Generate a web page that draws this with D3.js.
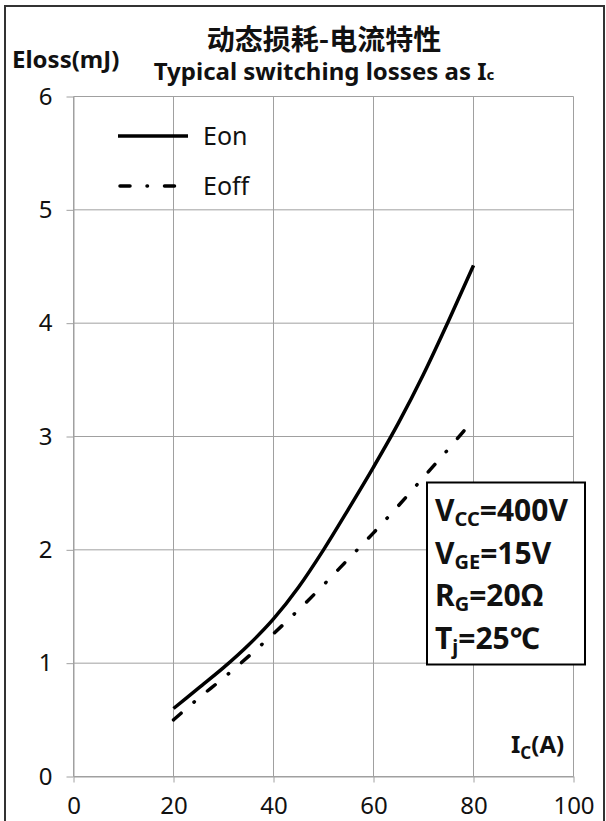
<!DOCTYPE html>
<html>
<head>
<meta charset="utf-8">
<script src="https://cdn.jsdelivr.net/npm/d3@7"></script>
<style>
  body { margin: 0; background: #fff; }
  svg text { font-family: "Noto Sans", "Noto Sans CJK SC", sans-serif; fill: #111; }
</style>
</head>
<body>
<div id="chart"></div>
<script>
// values
const xTicks = [0, 20, 40, 60, 80, 100];
const yTicks = [0, 1, 2, 3, 4, 5, 6];
const currentA = [20, 25, 30, 35, 40, 45, 50, 55, 60, 65, 70, 75, 80];
const eonMJ = [0.60, 0.78, 0.96, 1.16, 1.39, 1.67, 2.00, 2.36, 2.73, 3.12, 3.55, 4.02, 4.51];
const eoffMJ = [0.50, 0.69, 0.87, 1.06, 1.26, 1.47, 1.69, 1.92, 2.15, 2.39, 2.64, 2.89, 3.15];
const seriesNames = ["Eon", "Eoff"];
const conditions = [["V", "CC", "=400V"], ["V", "GE", "=15V"], ["R", "G", "=20Ω"], ["T", "j", "=25℃"]];

const W = 606, H = 821;
const margin = { top: 96.5, right: 32.5, bottom: 44.5, left: 73.5 };
const width = W - margin.left - margin.right;
const height = H - margin.top - margin.bottom;

const svg = d3.select("#chart").append("svg")
  .attr("width", W)
  .attr("height", H);

// outer frame
svg.append("rect")
  .attr("x", 5).attr("y", 6)
  .attr("width", 599).attr("height", 840)
  .attr("fill", "none")
  .attr("stroke", "#333")
  .attr("stroke-width", 2);

const xScale = d3.scaleLinear().domain([0, 100]).range([0, width]);
const yScale = d3.scaleLinear().domain([0, 6]).range([height, 0]);

const g = svg.append("g")
  .attr("transform", "translate(" + margin.left + "," + margin.top + ")");

// grid
g.append("g").selectAll("line").data(xTicks).enter().append("line")
  .attr("x1", d => xScale(d)).attr("x2", d => xScale(d))
  .attr("y1", 0).attr("y2", height)
  .attr("stroke", "#a0a0a0");
g.append("g").selectAll("line").data(yTicks).enter().append("line")
  .attr("x1", 0).attr("x2", width)
  .attr("y1", d => yScale(d)).attr("y2", d => yScale(d))
  .attr("stroke", "#a0a0a0");

// axis-x
const xAxis = g.append("g")
  .attr("transform", "translate(0," + height + ")")
  .call(d3.axisBottom(xScale).tickValues(xTicks).tickFormat(d3.format("d"))
    .tickSize(6).tickSizeOuter(0).tickPadding(14.5));
// axis-y
const yAxis = g.append("g")
  .call(d3.axisLeft(yScale).tickValues(yTicks).tickFormat(d3.format("d"))
    .tickSize(7).tickSizeOuter(0).tickPadding(14));

[xAxis, yAxis].forEach(ax => {
  ax.attr("font-family", null).attr("font-size", null);
  ax.select(".domain").attr("stroke", "#a0a0a0");
  ax.selectAll(".tick line").attr("stroke", "#a0a0a0");
  ax.selectAll(".tick text").style("font-size", "24px").attr("fill", "#222");
});

// curves
const line = d3.line()
  .x((d, i) => xScale(currentA[i]))
  .y(d => yScale(d))
  .curve(d3.curveMonotoneX);

g.append("path")
  .attr("d", line(eoffMJ))
  .attr("fill", "none")
  .attr("stroke", "#000")
  .attr("stroke-width", 3.5)
  .attr("stroke-linecap", "round")
  .attr("stroke-dasharray", "10,17,0.5,17");

g.append("path")
  .attr("d", line(eonMJ))
  .attr("fill", "none")
  .attr("stroke", "#000")
  .attr("stroke-width", 3.5);

// legend
const legend = svg.append("g");
seriesNames.forEach((name, i) => {
  const ly = 136 + i * 50;
  legend.append("line")
    .attr("x1", i ? 120 : 118).attr("x2", 188)
    .attr("y1", ly).attr("y2", ly)
    .attr("stroke", "#000")
    .attr("stroke-width", 3.5)
    .attr("stroke-linecap", i ? "round" : "butt")
    .attr("stroke-dasharray", i ? "10,17,0.5,17" : null);
  legend.append("text")
    .attr("x", 203).attr("y", ly + 9)
    .style("font-size", "25px")
    .text(name);
});

// conditions box
const box = svg.append("g");
box.append("rect")
  .attr("x", 427).attr("y", 482.5)
  .attr("width", 158).attr("height", 182)
  .attr("fill", "#fff")
  .attr("stroke", "#000")
  .attr("stroke-width", 2);
conditions.forEach((c, i) => {
  const t = box.append("text")
    .attr("x", 435).attr("y", 521 + i * 42.5)
    .style("font-size", "30px")
    .style("font-weight", "bold");
  t.append("tspan").text(c[0]);
  t.append("tspan").attr("dy", 5).style("font-size", "20px").text(c[1]);
  t.append("tspan").attr("dy", -5).text(c[2]);
});

// axis titles
const xt = svg.append("text")
  .attr("x", 511).attr("y", 753)
  .style("font-size", "24px")
  .style("font-weight", "bold");
xt.append("tspan").text("I");
xt.append("tspan").attr("dy", 6).style("font-size", "17px").text("C");
xt.append("tspan").attr("dy", -6).text("(A)");

svg.append("text")
  .attr("x", 12).attr("y", 68)
  .style("font-size", "24px")
  .style("font-weight", "bold")
  .text("Eloss(mJ)");

// titles
svg.append("text")
  .attr("x", 324).attr("y", 50)
  .attr("text-anchor", "middle")
  .style("font-family", "'Noto Sans CJK SC', sans-serif")
  .style("font-size", "28px")
  .style("font-weight", "bold")
  .text("动态损耗-电流特性");

const sub = svg.append("text")
  .attr("x", 324).attr("y", 80)
  .attr("text-anchor", "middle")
  .style("font-size", "24px")
  .style("font-weight", "bold");
sub.append("tspan").text("Typical switching losses as I");
sub.append("tspan").style("font-size", "15px").text("c");
</script>
</body>
</html>
